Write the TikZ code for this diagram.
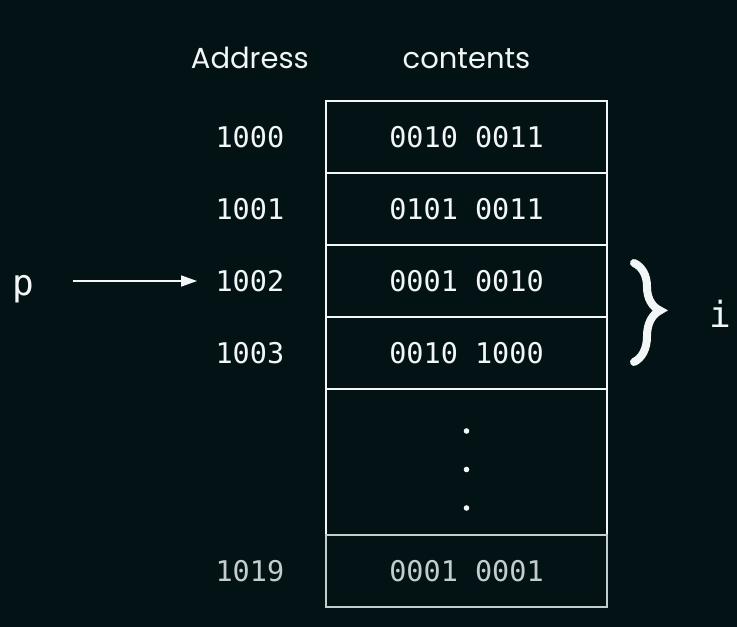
\documentclass[tikz,border=0pt]{standalone}
\usepackage{fontspec}
\setmainfont{Poppins}
\setmonofont{DejaVu Sans Mono}
\usepackage{tikz}
\usetikzlibrary{matrix}
\usetikzlibrary{arrows.meta}
\usetikzlibrary{decorations.pathreplacing}
\definecolor{bgdark}{HTML}{031315}
\definecolor{memwhite}{HTML}{F2F6F6}
\definecolor{memgrey}{HTML}{C4CDCD}

\begin{document}
\begin{tikzpicture}[x=1pt,y=-1pt]
\tikzstyle{arrow} = [memwhite,line width=1.6pt,-{Triangle[length=16pt,width=11pt]}]
\tikzstyle{brace} = [memwhite,decorate,decoration={brace,amplitude=26pt,aspect=0.48},line width=8pt,line cap=round]
\tikzstyle{head} = [font=\fontsize{29}{34}\selectfont,text=memwhite,inner sep=0pt,anchor=base]
\tikzstyle{var} = [font=\ttfamily\fontsize{36}{40}\selectfont,text=memwhite,inner sep=0pt,anchor=base]
\fill[bgdark] (0,0) rectangle (737,627);
\useasboundingbox (0,0) rectangle (737,627);
\matrix[matrix of nodes,anchor=north east,inner sep=0pt,outer sep=0pt,column sep=41pt,row
sep=-1.6pt,nodes={font=\ttfamily\fontsize{28.5}{32}\selectfont,text=memwhite,inner sep=0pt,outer sep=0pt},
column 2/.style={nodes={draw=memwhite,line width=1.6pt,minimum width=281pt,minimum height=72pt}},
row 5 column 2/.style={nodes={minimum height=146pt}},
row 6 column 1/.style={nodes={text=memgrey}},
row 6 column 2/.style={nodes={text=memgrey,draw=memgrey}}] (m) at (607.8,100.2) {
1000 & 0010 0011 \\
1001 & 0101 0011 \\
1002 & 0001 0010 \\
1003 & 0010 1000 \\
     & {}        \\
1019 & 0001 0001 \\
};
\node[head] (hAddr) at (m-1-1 |- 0,68) {Address};
\node[head] (hCont) at (m-1-2 |- 0,68) {contents};
\foreach \dy in {-31,7.5,46}
  \fill[memwhite] (m-5-2) ++(0,\dy) circle (2.8pt);
\node[var] (p) at (23.5,295) {p};
\node[var] (i) at (720,327) {i};
\draw[arrow,shorten <=38pt,shorten >=18.5pt] (p.east |- m-3-1.west) -- (m-3-1.west);
\draw[brace] (634,263) -- (634,362);
\end{tikzpicture}
\end{document}
